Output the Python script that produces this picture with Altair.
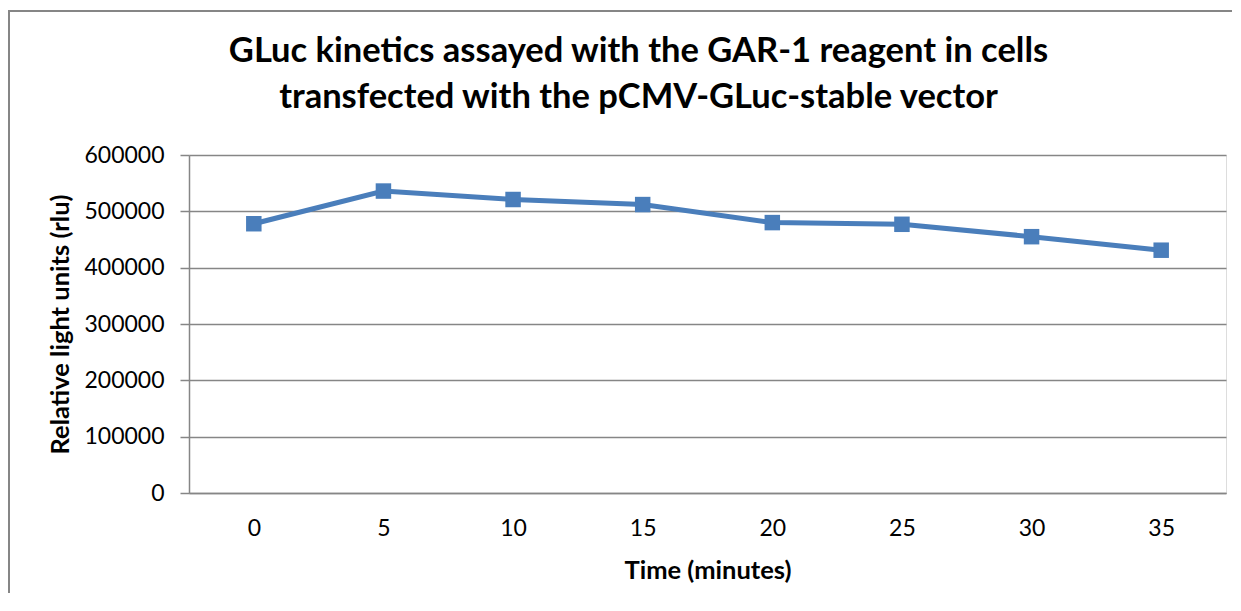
import altair as alt
import pandas as pd

times = ["0", "5", "10", "15", "20", "25", "30", "35"]
rlu = [478000, 536000, 521000, 512000, 480000, 477000, 455000, 431000]
y_ticks = [0, 100000, 200000, 300000, 400000, 500000, 600000]

df = pd.DataFrame({"time": times, "rlu": rlu})

FONT = "Lato"
BLUE = "#4A7EBB"
GRID = "#868686"

x_enc = alt.X(
    "time:O",
    sort=times,
    scale=alt.Scale(type="point", padding=0.5),
    axis=alt.Axis(
        title="Time (minutes)",
        labelAngle=0,
        ticks=False,
        domain=True,
        domainColor=GRID,
        domainWidth=1.5,
        labelPadding=24,
        labelFontSize=23,
        labelFont=FONT,
        labelColor="#000000",
        titleFont=FONT,
        titleFontSize=25.5,
        titleFontWeight="bold",
        titleColor="#000000",
        titleY=77,
        titleBaseline="middle",
    ),
)
y_enc = alt.Y(
    "rlu:Q",
    scale=alt.Scale(domain=[0, 600000], nice=False),
    axis=alt.Axis(
        title="Relative light units (rlu)",
        values=y_ticks,
        format="d",
        grid=True,
        gridColor=GRID,
        gridWidth=1.5,
        domainColor=GRID,
        domainWidth=1.5,
        tickColor=GRID,
        tickWidth=1.5,
        tickSize=9,
        labelPadding=16,
        labelFontSize=23,
        labelFont=FONT,
        labelColor="#000000",
        titleFont=FONT,
        titleFontSize=25.5,
        titleFontWeight="bold",
        titleColor="#000000",
        titleX=-129,
        titleBaseline="middle",
    ),
)

border = alt.Chart(pd.DataFrame({"b": [0]})).mark_rect(
    fill=None, stroke=GRID, strokeWidth=2
).encode(
    x=alt.value(-180),
    x2=alt.value(1100),
    y=alt.value(-144),
    y2=alt.value(500),
)

line = alt.Chart(df).mark_line(color=BLUE, strokeWidth=5).encode(x=x_enc, y=y_enc)
pts = alt.Chart(df).mark_point(
    shape="square", filled=True, size=240, color=BLUE, opacity=1
).encode(x=alt.X("time:O", sort=times), y="rlu:Q")

chart = alt.layer(border, line, pts).properties(
    width=1037,
    height=338,
    title=alt.TitleParams(
        text=[
            "GLuc kinetics assayed with the GAR-1 reagent in cells",
            "transfected with the pCMV-GLuc-stable vector",
        ],
        font=FONT,
        fontSize=34.5,
        fontWeight="bold",
        color="#000000",
        anchor="middle",
        frame="group",
        baseline="alphabetic",
        dx=-69,
        offset=-132,
        lineHeight=46,
    ),
    autosize=alt.AutoSizeParams(type="none"),
    padding={"left": 181, "top": 147, "right": 6, "bottom": 100},
).configure_view(stroke=None).configure(background="white")

chart.save("out.html", embed_options={"renderer": "svg", "actions": False})
